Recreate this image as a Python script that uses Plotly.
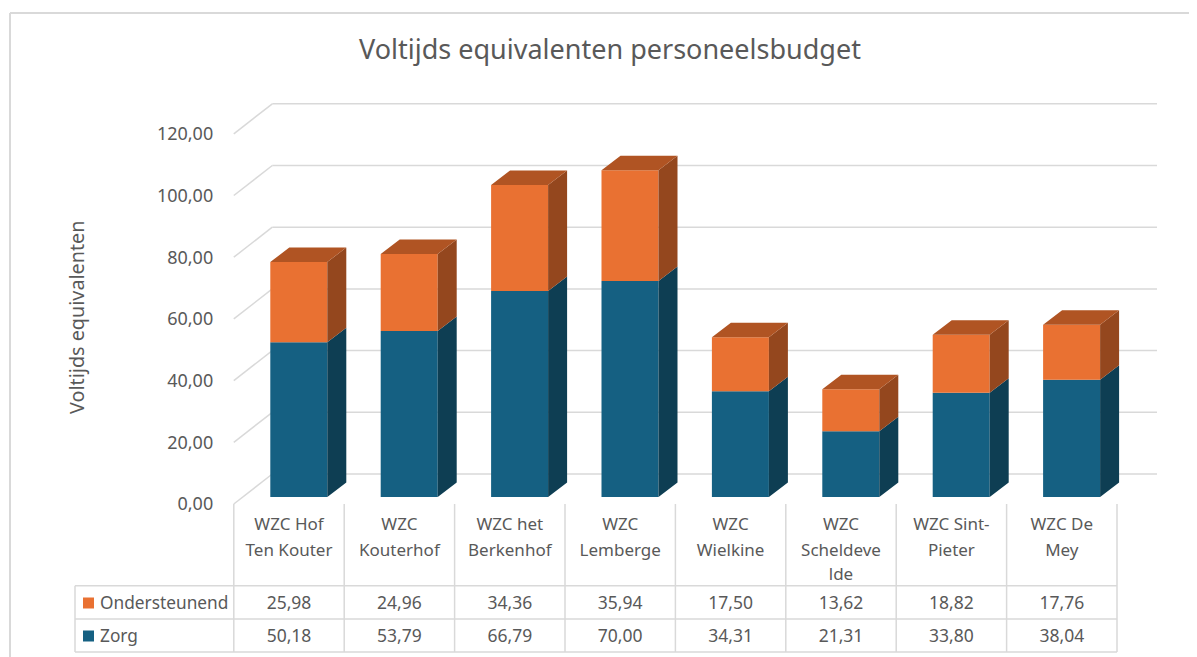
import plotly.graph_objects as go

categories = ["WZC Hof<br>Ten Kouter", "WZC<br>Kouterhof", "WZC het<br>Berkenhof", "WZC<br>Lemberge",
              "WZC<br>Wielkine", "WZC<br>Scheldeve<br>lde", "WZC Sint-<br>Pieter", "WZC De<br>Mey"]
zorg = [50.18, 53.79, 66.79, 70.00, 34.31, 21.31, 33.80, 38.04]
ondersteunend = [25.98, 24.96, 34.36, 35.94, 17.50, 13.62, 18.82, 17.76]
y_ticks = [0, 20, 40, 60, 80, 100, 120]

ORANGE, ORANGE_SIDE, ORANGE_TOP = "#E97132", "#94471E", "#B05423"
BLUE, BLUE_SIDE = "#156082", "#0E3E53"
GRID, TEXT = "#D9D9D9", "#595959"
FONT = "Noto Sans"
PAGE_OFFSET = 8            # the page's own margin around the figure
PAGE_W, PAGE_H = 1197, 657
W, H = PAGE_W - PAGE_OFFSET, PAGE_H - PAGE_OFFSET

# axes fill the figure; helpers translate page geometry into axis units
CAT_W, X0, Y0, PX_PER_UNIT = 110.4, 233.8, 504.0, 3.085
def ax(px): return (px - X0) / CAT_W
def ay(py): return (Y0 - py) / PX_PER_UNIT
def fx(px): return (px - PAGE_OFFSET) / W
def fy(py): return 1 - (py - PAGE_OFFSET) / H
def fmt(v): return f"{v:.2f}".replace(".", ",")

FRONT_L, BAR_W = ax(270.3), 57.0 / CAT_W
DX, DV = 19.0 / CAT_W, 14.5 / PX_PER_UNIT
FLOOR = ay(497.0)
n = len(categories)
idx = list(range(n))
centers = [FRONT_L + i + BAR_W / 2 for i in idx]

fig = go.Figure()
tops = [z + o for z, o in zip(zorg, ondersteunend)]
fig.add_bar(x=centers, y=zorg, base=[FLOOR] * n, width=BAR_W, marker=dict(color=BLUE, line_width=0), name="Zorg")
fig.add_bar(x=centers, y=ondersteunend, base=[FLOOR + z for z in zorg], width=BAR_W,
            marker=dict(color=ORANGE, line_width=0), name="Ondersteunend")

def faces(lows, highs):
    xs, ys = [], []
    for c, lo, hi in zip(centers, lows, highs):
        r = c + BAR_W / 2
        xs += [r, r, r + DX, r + DX, r, None]
        ys += [FLOOR + lo, FLOOR + hi, FLOOR + hi + DV, FLOOR + lo + DV, FLOOR + lo, None]
    return xs, ys

def add_poly(xs, ys, color):
    fig.add_scatter(x=xs, y=ys, mode="lines", fill="toself", fillcolor=color,
                    line=dict(width=0, color=color), hoverinfo="skip", showlegend=False)

add_poly(*faces([0] * n, zorg), BLUE_SIDE)
add_poly(*faces(zorg, tops), ORANGE_SIDE)
tx, ty = [], []
for c, t in zip(centers, tops):
    l, r = c - BAR_W / 2, c + BAR_W / 2
    tx += [l, r, r + DX, l + DX, l, None]
    ty += [FLOOR + t, FLOOR + t, FLOOR + t + DV, FLOOR + t + DV, FLOOR + t, None]
add_poly(tx, ty, ORANGE_TOP)

def line(x0, y0, x1, y1, w=1.5):
    return dict(type="line", xref="x", yref="y", x0=x0, y0=y0, x1=x1, y1=y1,
                layer="below", line=dict(color=GRID, width=w))

shapes = []
WALL_DX, WALL_DV = 38.5 / CAT_W, 30.0 / PX_PER_UNIT
RIGHT = ax(1157)
for t in y_ticks:
    shapes.append(line(0, t, WALL_DX, t + WALL_DV))
    shapes.append(line(WALL_DX, t + WALL_DV, RIGHT, t + WALL_DV))

# data table
TBL_L = ax(75)
R1, R2, R3 = ay(585.7), ay(619), ay(652)
for i in range(n + 1):
    shapes.append(line(i, 0, i, R3))
for r in (R1, R2, R3):
    shapes.append(line(TBL_L, r, n, r))
shapes.append(line(TBL_L, R1, TBL_L, R3))
# outer frame
shapes.append(line(ax(10), ay(13), ax(PAGE_W), ay(13), 2))
shapes.append(line(ax(10), ay(13), ax(10), ay(PAGE_H), 2))

# category labels, one text per line for the table's line spacing
LINE_Y = [ay(526), ay(551.5), ay(576)]
lx, ly, lt = [], [], []
for i, c in enumerate(categories):
    for j, part in enumerate(c.split("<br>")):
        lx.append(i + 0.5); ly.append(LINE_Y[j]); lt.append(part)
fig.add_scatter(x=lx, y=ly, text=lt, mode="text", textposition="middle center",
                textfont=dict(family=FONT, size=17, color=TEXT), hoverinfo="skip", showlegend=False)

ROW_O, ROW_Z = ay(605), ay(638)
fig.add_scatter(x=[i + 0.5 for i in idx] * 2, y=[ROW_O] * n + [ROW_Z] * n,
                text=[fmt(v) for v in ondersteunend + zorg], mode="text", textposition="middle center",
                textfont=dict(family=FONT, size=17.5, color=TEXT), hoverinfo="skip", showlegend=False)
fig.add_scatter(x=[ax(88.5)] * 2, y=[ay(603), ay(636)], mode="markers",
                marker=dict(symbol="square", size=11, color=[ORANGE, BLUE], line_width=0),
                hoverinfo="skip", showlegend=False)
fig.add_scatter(x=[ax(100)] * 2, y=[ROW_O, ROW_Z], text=["Ondersteunend", "Zorg"], mode="text",
                textposition="middle right", textfont=dict(family=FONT, size=17.3, color=TEXT),
                hoverinfo="skip", showlegend=False)

fig.update_layout(
    width=W, height=H, margin=dict(l=0, r=0, t=0, b=0), autosize=False,
    barmode="overlay", showlegend=False, paper_bgcolor="white", plot_bgcolor="white",
    shapes=shapes,
    title=dict(text="Voltijds equivalenten personeelsbudget", x=fx(610), xanchor="center",
               y=fy(50), yanchor="middle", font=dict(family=FONT, size=27, color=TEXT)),
    xaxis=dict(range=[ax(PAGE_OFFSET), ax(PAGE_W)], showgrid=False, zeroline=False, showticklabels=False,
               ticks="", fixedrange=True),
    yaxis=dict(range=[ay(PAGE_H), ay(PAGE_OFFSET)], showgrid=False, zeroline=False, anchor="free",
               position=fx(X0), tickvals=y_ticks, ticktext=[fmt(t) for t in y_ticks], ticks="outside",
               ticklen=17, tickcolor="rgba(0,0,0,0)", showline=False, automargin=False,
               tickfont=dict(family=FONT, size=18, color=TEXT), fixedrange=True),
    annotations=[dict(text="Voltijds equivalenten", xref="paper", yref="paper", x=fx(77), y=fy(318),
                      textangle=-90, showarrow=False, xanchor="center", yanchor="middle",
                      font=dict(family=FONT, size=19.8, color=TEXT))],
)
fig.write_html("out.html", config=dict(displayModeBar=False))
